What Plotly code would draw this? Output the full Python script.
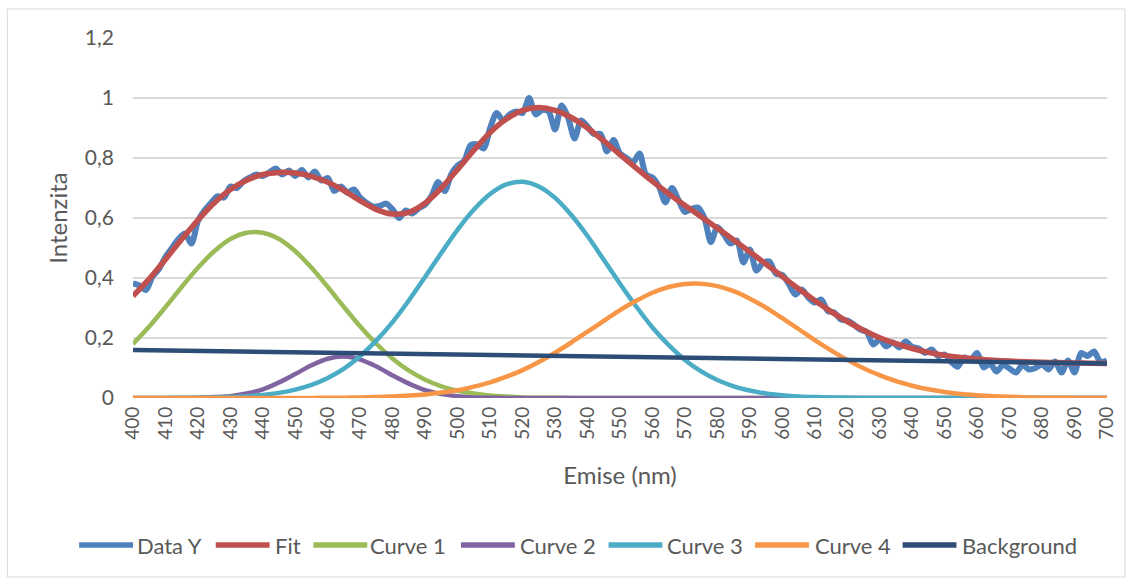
import plotly.graph_objects as go

# Wavelength grids (nm)
nm_data = list(range(400, 701, 2))
nm_curve = list(range(400, 701, 5))
nm_bg = [400, 700]

# Measured emission spectrum (2 nm steps)
data_y = [
    0.382, 0.375, 0.360, 0.405, 0.430, 0.470, 0.500, 0.530, 0.548, 0.515,
    0.590, 0.625, 0.650, 0.672, 0.668, 0.705, 0.700, 0.722, 0.735, 0.745,
    0.740, 0.752, 0.765, 0.745, 0.758, 0.740, 0.760, 0.735, 0.755, 0.725,
    0.733, 0.690, 0.705, 0.685, 0.695, 0.668, 0.650, 0.638, 0.640, 0.648,
    0.628, 0.600, 0.625, 0.615, 0.632, 0.645, 0.675, 0.720, 0.690, 0.745,
    0.775, 0.790, 0.843, 0.845, 0.832, 0.900, 0.950, 0.925, 0.945, 0.955,
    0.950, 1.000, 0.945, 0.960, 0.955, 0.895, 0.975, 0.935, 0.865, 0.925,
    0.905, 0.880, 0.880, 0.822, 0.860, 0.815, 0.800, 0.785, 0.815, 0.745,
    0.735, 0.705, 0.652, 0.700, 0.660, 0.620, 0.630, 0.635, 0.600, 0.520,
    0.570, 0.545, 0.515, 0.525, 0.452, 0.495, 0.425, 0.450, 0.455, 0.415,
    0.410, 0.380, 0.345, 0.362, 0.335, 0.318, 0.328, 0.290, 0.285, 0.262,
    0.258, 0.245, 0.228, 0.220, 0.178, 0.195, 0.172, 0.185, 0.168, 0.188,
    0.170, 0.165, 0.150, 0.162, 0.140, 0.145, 0.120, 0.104, 0.135, 0.128,
    0.150, 0.102, 0.115, 0.088, 0.110, 0.098, 0.085, 0.110, 0.095, 0.100,
    0.112, 0.095, 0.122, 0.085, 0.125, 0.085, 0.150, 0.140, 0.155, 0.120,
    0.125,
]

# Fitted model and its components (5 nm steps)
fit_y = [
    0.340, 0.397, 0.462, 0.529, 0.593, 0.650, 0.695, 0.726, 0.745, 0.752,
    0.750, 0.739, 0.719, 0.691, 0.657, 0.628, 0.613, 0.619, 0.650, 0.700,
    0.762, 0.826, 0.885, 0.930, 0.959, 0.968, 0.959, 0.935, 0.900, 0.857,
    0.811, 0.766, 0.722, 0.681, 0.642, 0.604, 0.566, 0.527, 0.487, 0.446,
    0.405, 0.364, 0.325, 0.288, 0.255, 0.226, 0.201, 0.181, 0.165, 0.152,
    0.142, 0.135, 0.130, 0.126, 0.123, 0.121, 0.119, 0.118, 0.117, 0.116,
    0.115,
]
curve1 = [
    0.180, 0.238, 0.303, 0.370, 0.434, 0.489, 0.530, 0.551, 0.551, 0.530,
    0.489, 0.434, 0.370, 0.303, 0.238, 0.180, 0.131, 0.091, 0.061, 0.039,
    0.024, 0.015, 0.008, 0.005, 0.002, 0.001, 0.001, 0.000, 0.000, 0.000,
    0.000, 0.000, 0.000, 0.000, 0.000, 0.000, 0.000, 0.000, 0.000, 0.000,
    0.000, 0.000, 0.000, 0.000, 0.000, 0.000, 0.000, 0.000, 0.000, 0.000,
    0.000, 0.000, 0.000, 0.000, 0.000, 0.000, 0.000, 0.000, 0.000, 0.000,
    0.000,
]
curve2 = [
    0.000, 0.000, 0.000, 0.000, 0.001, 0.003, 0.006, 0.015, 0.029, 0.052,
    0.080, 0.109, 0.131, 0.138, 0.128, 0.105, 0.075, 0.048, 0.026, 0.013,
    0.006, 0.002, 0.001, 0.000, 0.000, 0.000, 0.000, 0.000, 0.000, 0.000,
    0.000, 0.000, 0.000, 0.000, 0.000, 0.000, 0.000, 0.000, 0.000, 0.000,
    0.000, 0.000, 0.000, 0.000, 0.000, 0.000, 0.000, 0.000, 0.000, 0.000,
    0.000, 0.000, 0.000, 0.000, 0.000, 0.000, 0.000, 0.000, 0.000, 0.000,
    0.000,
]
curve3 = [
    0.000, 0.000, 0.000, 0.001, 0.001, 0.002, 0.003, 0.006, 0.010, 0.017,
    0.028, 0.044, 0.067, 0.098, 0.140, 0.192, 0.254, 0.326, 0.404, 0.484,
    0.561, 0.628, 0.680, 0.712, 0.721, 0.705, 0.667, 0.610, 0.540, 0.461,
    0.381, 0.305, 0.235, 0.176, 0.127, 0.089, 0.060, 0.039, 0.025, 0.015,
    0.009, 0.005, 0.003, 0.002, 0.001, 0.000, 0.000, 0.000, 0.000, 0.000,
    0.000, 0.000, 0.000, 0.000, 0.000, 0.000, 0.000, 0.000, 0.000, 0.000,
    0.000,
]
curve4 = [
    0.000, 0.000, 0.000, 0.000, 0.000, 0.000, 0.000, 0.000, 0.000, 0.000,
    0.000, 0.000, 0.001, 0.001, 0.002, 0.003, 0.005, 0.008, 0.012, 0.018,
    0.026, 0.038, 0.052, 0.071, 0.093, 0.120, 0.151, 0.185, 0.221, 0.257,
    0.293, 0.324, 0.351, 0.370, 0.380, 0.381, 0.373, 0.356, 0.331, 0.301,
    0.266, 0.230, 0.193, 0.159, 0.127, 0.099, 0.076, 0.056, 0.041, 0.029,
    0.020, 0.013, 0.009, 0.006, 0.004, 0.002, 0.001, 0.001, 0.000, 0.000,
    0.000,
]
background = [0.160, 0.115]

x_ticks = list(range(400, 701, 10))
y_ticks = [0, 0.2, 0.4, 0.6, 0.8, 1.0, 1.2]
y_ticktext = ["0", "0,2", "0,4", "0,6", "0,8", "1", "1,2"]

FONT = "Lato"
TXT = "#595959"

# Plot-area geometry in pixels (used to place the hand-built legend)
W, H = 1129, 578
ML, MR, MT, MB = 133, 19, 38, 180
PW, PH = W - ML - MR, H - MT - MB


def px(x):
    return (x - ML) / PW


def py(y):
    return (H - MB - y) / PH


series = [
    ("Data Y", nm_data, data_y, "#4F81BD", 6),
    ("Fit", nm_curve, fit_y, "#C0504D", 5.5),
    ("Curve 1", nm_curve, curve1, "#9BBB59", 4.5),
    ("Curve 2", nm_curve, curve2, "#8064A2", 4.5),
    ("Curve 3", nm_curve, curve3, "#4BACC6", 4.5),
    ("Curve 4", nm_curve, curve4, "#F79646", 4.5),
    ("Background", nm_bg, background, "#2C4D75", 4.5),
]

# legend key line start / label start (pixels)
legend_pos = [(79, 137), (216, 275), (314, 371), (462, 521),
              (610, 669), (757, 817), (905, 965)]
LEG_Y = 545

fig = go.Figure()
shapes = [dict(
    type="rect", xref="paper", yref="paper",
    x0=px(7), x1=px(1128), y0=py(577), y1=py(9),
    line=dict(color="#D9D9D9", width=1), fillcolor="rgba(0,0,0,0)",
    layer="below",
)]
annotations = []
for (name, xs, ys, color, w), (lx, tx) in zip(series, legend_pos):
    fig.add_trace(go.Scatter(
        x=xs, y=ys, name=name, mode="lines", showlegend=False,
        line=dict(color=color, width=w, shape="spline", smoothing=0.8),
    ))
    shapes.append(dict(
        type="line", xref="paper", yref="paper",
        x0=px(lx), x1=px(lx + 54), y0=py(LEG_Y), y1=py(LEG_Y),
        line=dict(color=color, width=5.5),
    ))
    annotations.append(dict(
        text=name, xref="paper", yref="paper", x=px(tx - 2), y=py(LEG_Y),
        xanchor="left", yanchor="middle", showarrow=False,
        font=dict(family=FONT, size=22, color=TXT),
    ))

fig.update_layout(
    width=W, height=H,
    margin=dict(l=ML, r=MR, t=MT, b=MB),
    paper_bgcolor="white", plot_bgcolor="white",
    font=dict(family=FONT, color=TXT, size=19),
    showlegend=False,
    xaxis=dict(
        range=[400, 700], tickmode="array", tickvals=x_ticks,
        ticktext=[str(v) for v in x_ticks], tickangle=-90,
        showgrid=False, zeroline=False, showline=False, ticks="",
        tickfont=dict(size=19, color=TXT), ticklabelstandoff=4,
        title=dict(text="Emise (nm)", font=dict(size=24, color=TXT), standoff=28),
    ),
    yaxis=dict(
        range=[0, 1.2], tickmode="array", tickvals=y_ticks,
        ticktext=y_ticktext,
        showgrid=True, gridcolor="#D9D9D9", gridwidth=2,
        zeroline=False, showline=False, ticks="",
        tickfont=dict(size=21, color=TXT), ticklabelstandoff=18,
        title=dict(text="Intenzita", font=dict(size=24, color=TXT), standoff=10),
    ),
    shapes=shapes,
    annotations=annotations,
)

fig.write_html("out.html")
